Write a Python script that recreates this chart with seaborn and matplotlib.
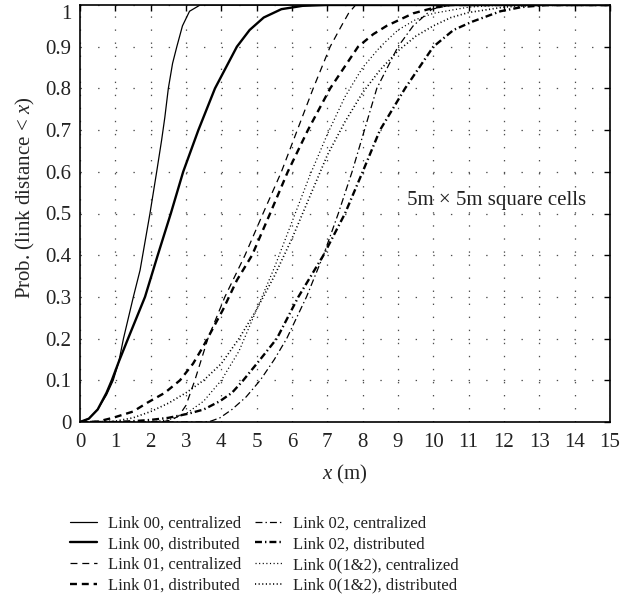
import numpy as np
import pandas as pd
import matplotlib
matplotlib.use("Agg")
import matplotlib.pyplot as plt
import seaborn as sns

# ---------------- data ----------------
labels = ["Link 00, centralized", "Link 00, distributed",
          "Link 01, centralized", "Link 01, distributed",
          "Link 02, centralized", "Link 02, distributed",
          "Link 0(1&2), centralized", "Link 0(1&2), distributed"]

l00c_x = [0, 0.25, 0.5, 0.75, 0.94, 1.1, 1.23, 1.51, 1.7, 1.98, 2.17, 2.31, 2.4, 2.5, 2.62, 2.74, 2.9, 3.1, 3.4, 15]
l00c_y = [0, 0.008, 0.03, 0.065, 0.1, 0.145, 0.2, 0.3, 0.364, 0.5, 0.6, 0.676, 0.73, 0.8, 0.86, 0.9, 0.95, 0.985, 1, 1]

l00d_x = [0, 0.25, 0.5, 0.75, 0.9, 1.1, 1.36, 1.6, 1.84, 2.2, 2.57, 2.92, 3.35, 3.82, 4.44, 4.8, 5.2, 5.7, 6.3, 7, 15]
l00d_y = [0, 0.008, 0.03, 0.07, 0.1, 0.145, 0.2, 0.25, 0.3, 0.4, 0.5, 0.6, 0.7, 0.8, 0.9, 0.94, 0.97, 0.99, 0.998, 1, 1]

l01c_x = [0, 2.3, 2.6, 2.8, 3.0, 3.25, 3.62, 4.1, 4.67, 5.18, 5.7, 6.15, 6.6, 7.08, 7.4, 7.6, 7.8, 15]
l01c_y = [0, 0, 0.005, 0.015, 0.04, 0.1, 0.2, 0.3, 0.4, 0.5, 0.6, 0.7, 0.8, 0.9, 0.95, 0.98, 1, 1]

l01d_x = [0, 0.5, 0.93, 1.5, 1.9, 2.4, 2.83, 3.2, 3.48, 4.05, 4.44, 4.87, 5.38, 5.88, 6.45, 7.08, 7.87, 8.3, 8.68, 9.43, 10, 10.5, 15]
l01d_y = [0, 0.001, 0.01, 0.025, 0.046, 0.07, 0.1, 0.14, 0.18, 0.27, 0.34, 0.4, 0.5, 0.6, 0.7, 0.8, 0.9, 0.93, 0.95, 0.98, 0.993, 1, 1]

l02c_x = [0, 3.5, 3.7, 3.96, 4.3, 4.7, 5.1, 5.5, 5.85, 6.41, 6.89, 7.31, 7.7, 8.05, 8.4, 9.0, 9.43, 9.96, 10.5, 15]
l02c_y = [0, 0, 0.002, 0.01, 0.03, 0.06, 0.1, 0.15, 0.2, 0.3, 0.4, 0.5, 0.6, 0.7, 0.8, 0.9, 0.95, 0.99, 1, 1]

l02d_x = [0, 1, 1.5, 2, 2.5, 3.07, 3.5, 3.96, 4.3, 4.62, 5.1, 5.57, 6.18, 6.89, 7.5, 8.0, 8.49, 9.2, 10.0, 10.57, 11.1, 11.9, 12.5, 13.2, 15]
l02d_y = [0, 0, 0.002, 0.005, 0.01, 0.02, 0.03, 0.05, 0.07, 0.1, 0.15, 0.2, 0.3, 0.4, 0.5, 0.6, 0.7, 0.8, 0.9, 0.94, 0.96, 0.985, 0.995, 1, 1]

l012c_x = [0, 2, 2.5, 3, 3.5, 4, 4.5, 5, 5.5, 6, 6.5, 7, 7.5, 8, 8.5, 9, 9.5, 10, 11, 12, 15]
l012c_y = [0, 0, 0.005, 0.02, 0.05, 0.1, 0.17, 0.27, 0.37, 0.48, 0.59, 0.69, 0.78, 0.85, 0.9, 0.94, 0.965, 0.98, 0.995, 1, 1]

l012d_x = [0, 1, 1.5, 2, 2.5, 3, 3.5, 4, 4.5, 5, 5.5, 6, 6.5, 7, 7.5, 8, 8.5, 9, 9.5, 10, 10.5, 11, 12, 13, 15]
l012d_y = [0, 0.002, 0.01, 0.025, 0.045, 0.07, 0.1, 0.14, 0.2, 0.27, 0.35, 0.44, 0.54, 0.64, 0.72, 0.79, 0.845, 0.89, 0.925, 0.95, 0.97, 0.982, 0.995, 1, 1]

series_x = [l00c_x, l00d_x, l01c_x, l01d_x, l02c_x, l02d_x, l012c_x, l012d_x]
series_y = [l00c_y, l00d_y, l01c_y, l01d_y, l02c_y, l02d_y, l012c_y, l012d_y]

x_ticks = list(range(0, 16))
y_ticks = [0, 0.1, 0.2, 0.3, 0.4, 0.5, 0.6, 0.7, 0.8, 0.9, 1]
y_ticklabels = ["0", "0.1", "0.2", "0.3", "0.4", "0.5", "0.6", "0.7", "0.8", "0.9", "1"]

# ---------------- style ----------------
sns.set_style("white")
plt.rcParams["font.family"] = ["Liberation Serif", "DejaVu Serif"]
plt.rcParams["mathtext.fontset"] = "custom"
plt.rcParams["mathtext.rm"] = "Liberation Serif"
plt.rcParams["mathtext.it"] = "Liberation Serif:italic"
plt.rcParams["lines.scale_dashes"] = False
plt.rcParams["text.color"] = "#222222"

styles = [
    dict(linestyle="-", lw=0.9),
    dict(linestyle="-", lw=1.7),
    dict(linestyle=(0, (5.0, 3.5)), lw=0.9),
    dict(linestyle=(0, (5.0, 3.5)), lw=1.7),
    dict(linestyle=(0, (5.0, 2.2, 1.0, 2.2)), lw=0.9),
    dict(linestyle=(0, (5.0, 2.2, 1.0, 2.2)), lw=1.7),
    dict(linestyle=(0, (0.8, 1.8)), lw=0.9),
    dict(linestyle=(0, (0.8, 1.8)), lw=1.2),
]

fig = plt.figure(figsize=(6.38, 6.05), dpi=100)
ax = fig.add_axes([80 / 638, 1 - 422 / 605, 530 / 638, 417 / 605])

for lab, xs, ys, st in zip(labels, series_x, series_y, styles):
    df = pd.DataFrame({"x": xs, "y": ys})
    sns.lineplot(data=df, x="x", y="y", ax=ax, color="black", label=lab,
                 estimator=None, sort=False, **st)

ax.set_xlim(0, 15)
ax.set_ylim(0, 1)
ax.set_xticks(x_ticks)
ax.set_yticks(y_ticks)
ax.set_yticklabels(y_ticklabels)
ax.get_yticklabels()[-1].set_verticalalignment("top")
ax.tick_params(direction="in", length=4, width=1, top=True, right=True,
               labelsize=15, colors="black", labelcolor="#222222")
ax.tick_params(axis="x", pad=8)
ax.tick_params(axis="y", pad=6)
for s in ax.spines.values():
    s.set_linewidth(1.2)
    s.set_color("black")
ax.xaxis.grid(True, color="0.3", linestyle=(0, (1.0, 8.4)), lw=0.9)
ax.yaxis.grid(True, color="0.3", linestyle=(0, (1.0, 11.7)), lw=0.9)

ax.set_xlabel(r"$\mathit{x}$ (m)", fontsize=15, labelpad=8)
ax.set_ylabel(r"Prob. (link distance < $\mathit{x}$)", fontsize=15)
ax.yaxis.set_label_coords(-0.082, 0.537)

ax.text(9.26, 0.532, "5m × 5m square cells", fontsize=15, ha="left", va="center")

handles, labs = ax.get_legend_handles_labels()
if ax.legend_ is not None:
    ax.legend_.remove()
fig.legend(handles, labs, ncol=2, loc="upper left",
           bbox_to_anchor=(62 / 638, 1 - 507 / 605), frameon=False,
           fontsize=12, handlelength=1.6, handletextpad=0.65,
           columnspacing=0.85, labelspacing=0.29, borderpad=0.0)

fig.savefig("out.png", dpi=100)
